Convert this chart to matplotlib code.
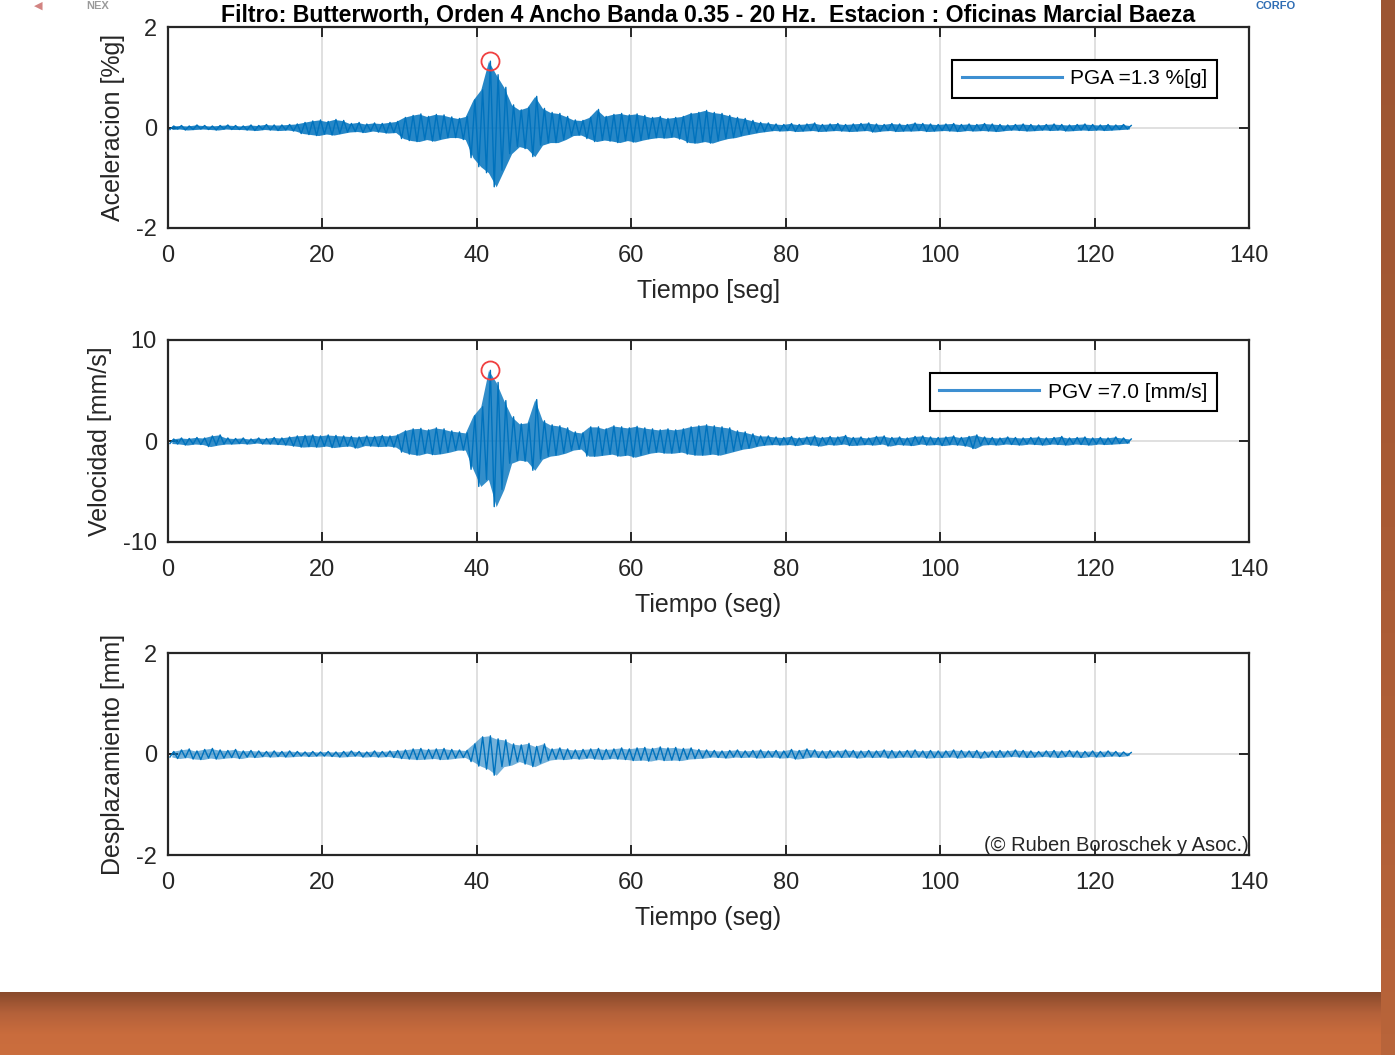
#Registro sismico filtrado - Oficinas Marcial Baeza
#Aceleracion, velocidad y desplazamiento (envolventes leidas por segundo)
import numpy as np
import matplotlib.pyplot as plt
from matplotlib.colors import LinearSegmentedColormap

plt.rcParams['font.family'] = ['Liberation Sans', 'DejaVu Sans']
plt.rcParams['axes.unicode_minus'] = False

titulo = 'Filtro: Butterworth, Orden 4 Ancho Banda 0.35 - 20 Hz.  Estacion : Oficinas Marcial Baeza'

#Maximos y minimos de cada segundo (0 a 124 s)
acel_max = [0.03, 0.04, 0.03, 0.05, 0.04, 0.03, 0.04, 0.05, 0.04, 0.03,
            0.05, 0.04, 0.06, 0.05, 0.05, 0.06, 0.07, 0.10, 0.13, 0.15,
            0.12, 0.16, 0.14, 0.08, 0.10, 0.07, 0.09, 0.08, 0.10, 0.12,
            0.20, 0.24, 0.27, 0.22, 0.26, 0.25, 0.21, 0.18, 0.22, 0.55,
            0.75, 1.32, 1.05, 0.80, 0.45, 0.35, 0.40, 0.62, 0.38, 0.30,
            0.28, 0.22, 0.15, 0.14, 0.20, 0.36, 0.22, 0.26, 0.28, 0.25,
            0.27, 0.24, 0.20, 0.22, 0.18, 0.20, 0.22, 0.28, 0.30, 0.34,
            0.30, 0.28, 0.24, 0.20, 0.18, 0.14, 0.10, 0.09, 0.07, 0.06,
            0.08, 0.06, 0.07, 0.09, 0.06, 0.07, 0.08, 0.06, 0.07, 0.08,
            0.09, 0.07, 0.06, 0.08, 0.07, 0.06, 0.09, 0.08, 0.07, 0.06,
            0.07, 0.08, 0.06, 0.07, 0.06, 0.08, 0.07, 0.06, 0.05, 0.06,
            0.07, 0.06, 0.05, 0.06, 0.07, 0.06, 0.05, 0.06, 0.07, 0.06,
            0.05, 0.06, 0.05, 0.06, 0.04]
acel_min = [-0.04, -0.03, -0.05, -0.04, -0.03, -0.04, -0.05, -0.03, -0.04, -0.04,
            -0.05, -0.06, -0.04, -0.05, -0.06, -0.05, -0.07, -0.12, -0.14, -0.16,
            -0.13, -0.15, -0.12, -0.09, -0.08, -0.10, -0.07, -0.09, -0.11, -0.10,
            -0.22, -0.26, -0.28, -0.24, -0.27, -0.23, -0.20, -0.20, -0.24, -0.60,
            -0.78, -0.90, -1.18, -0.85, -0.52, -0.38, -0.42, -0.58, -0.35, -0.30,
            -0.30, -0.24, -0.16, -0.15, -0.22, -0.28, -0.25, -0.27, -0.30, -0.26,
            -0.29, -0.25, -0.22, -0.20, -0.21, -0.19, -0.23, -0.30, -0.31, -0.28,
            -0.31, -0.26, -0.22, -0.20, -0.16, -0.13, -0.10, -0.08, -0.06, -0.07,
            -0.06, -0.08, -0.07, -0.06, -0.08, -0.07, -0.06, -0.07, -0.08, -0.07,
            -0.06, -0.09, -0.07, -0.06, -0.08, -0.07, -0.07, -0.06, -0.08, -0.07,
            -0.06, -0.07, -0.08, -0.06, -0.07, -0.06, -0.07, -0.08, -0.06, -0.05,
            -0.06, -0.07, -0.06, -0.05, -0.06, -0.05, -0.07, -0.06, -0.05, -0.06,
            -0.05, -0.06, -0.05, -0.04, -0.03]

vel_max = [0.20, 0.30, 0.25, 0.35, 0.30, 0.50, 0.60, 0.30, 0.25, 0.30,
           0.20, 0.30, 0.25, 0.35, 0.30, 0.40, 0.50, 0.55, 0.60, 0.50,
           0.60, 0.55, 0.50, 0.45, 0.40, 0.50, 0.45, 0.55, 0.50, 0.60,
           1.00, 1.20, 1.25, 1.10, 1.30, 1.20, 1.00, 0.90, 0.80, 2.50,
           3.40, 7.00, 5.80, 4.00, 2.40, 1.70, 1.80, 4.10, 2.00, 1.60,
           1.50, 1.30, 0.90, 0.80, 1.40, 1.40, 1.20, 1.50, 1.40, 1.30,
           1.45, 1.30, 1.20, 1.10, 1.20, 1.10, 1.20, 1.40, 1.50, 1.60,
           1.50, 1.40, 1.30, 1.00, 0.90, 0.70, 0.50, 0.50, 0.40, 0.35,
           0.45, 0.30, 0.40, 0.50, 0.35, 0.45, 0.40, 0.55, 0.35, 0.40,
           0.30, 0.45, 0.50, 0.35, 0.40, 0.30, 0.45, 0.50, 0.40, 0.35,
           0.40, 0.50, 0.35, 0.45, 0.60, 0.40, 0.35, 0.30, 0.40, 0.35,
           0.30, 0.35, 0.40, 0.30, 0.35, 0.45, 0.30, 0.35, 0.40, 0.30,
           0.35, 0.30, 0.40, 0.30, 0.20]
vel_min = [-0.25, -0.30, -0.40, -0.30, -0.35, -0.55, -0.40, -0.30, -0.30, -0.25,
           -0.30, -0.20, -0.30, -0.30, -0.35, -0.40, -0.50, -0.60, -0.55, -0.60,
           -0.50, -0.65, -0.55, -0.50, -0.70, -0.45, -0.50, -0.55, -0.50, -0.60,
           -1.10, -1.30, -1.40, -1.20, -1.35, -1.25, -1.10, -0.90, -0.90, -2.80,
           -4.50, -3.80, -6.50, -4.80, -2.20, -1.90, -2.00, -2.90, -1.80, -1.50,
           -1.40, -1.20, -0.90, -0.80, -1.50, -1.50, -1.40, -1.30, -1.50, -1.40,
           -1.60, -1.40, -1.20, -1.10, -1.20, -1.20, -1.10, -1.30, -1.40, -1.40,
           -1.30, -1.40, -1.20, -1.00, -0.80, -0.70, -0.50, -0.40, -0.35, -0.40,
           -0.35, -0.45, -0.30, -0.40, -0.50, -0.35, -0.40, -0.30, -0.45, -0.40,
           -0.35, -0.40, -0.30, -0.50, -0.35, -0.40, -0.45, -0.30, -0.40, -0.35,
           -0.45, -0.35, -0.40, -0.50, -0.75, -0.40, -0.35, -0.40, -0.30, -0.35,
           -0.40, -0.30, -0.35, -0.40, -0.30, -0.35, -0.40, -0.30, -0.35, -0.40,
           -0.30, -0.35, -0.30, -0.25, -0.20]

desp_max = [0.05, 0.08, 0.10, 0.06, 0.09, 0.11, 0.08, 0.07, 0.09, 0.06,
            0.07, 0.06, 0.05, 0.06, 0.05, 0.06, 0.05, 0.04, 0.05, 0.04,
            0.05, 0.04, 0.05, 0.06, 0.05, 0.04, 0.06, 0.05, 0.06, 0.07,
            0.08, 0.10, 0.11, 0.09, 0.10, 0.11, 0.09, 0.08, 0.07, 0.20,
            0.34, 0.36, 0.30, 0.28, 0.20, 0.18, 0.21, 0.15, 0.20, 0.10,
            0.12, 0.10, 0.08, 0.09, 0.10, 0.11, 0.09, 0.10, 0.12, 0.10,
            0.12, 0.13, 0.11, 0.14, 0.12, 0.13, 0.11, 0.12, 0.09, 0.08,
            0.07, 0.06, 0.07, 0.08, 0.06, 0.07, 0.08, 0.06, 0.07, 0.06,
            0.09, 0.07, 0.10, 0.08, 0.06, 0.07, 0.06, 0.08, 0.07, 0.06,
            0.07, 0.06, 0.08, 0.07, 0.06, 0.07, 0.08, 0.06, 0.07, 0.06,
            0.06, 0.08, 0.07, 0.06, 0.07, 0.05, 0.06, 0.07, 0.06, 0.08,
            0.07, 0.06, 0.05, 0.06, 0.07, 0.06, 0.07, 0.06, 0.05, 0.06,
            0.05, 0.06, 0.05, 0.04, 0.03]
desp_min = [-0.06, -0.09, -0.07, -0.10, -0.11, -0.08, -0.10, -0.08, -0.07, -0.09,
            -0.06, -0.07, -0.05, -0.06, -0.05, -0.06, -0.05, -0.04, -0.05, -0.04,
            -0.04, -0.05, -0.06, -0.05, -0.04, -0.06, -0.05, -0.06, -0.05, -0.07,
            -0.09, -0.10, -0.11, -0.10, -0.09, -0.11, -0.10, -0.08, -0.07, -0.15,
            -0.24, -0.30, -0.42, -0.25, -0.22, -0.15, -0.20, -0.25, -0.18, -0.12,
            -0.10, -0.11, -0.09, -0.10, -0.08, -0.10, -0.11, -0.09, -0.10, -0.11,
            -0.13, -0.12, -0.14, -0.11, -0.13, -0.12, -0.13, -0.10, -0.09, -0.08,
            -0.06, -0.07, -0.08, -0.06, -0.07, -0.06, -0.08, -0.07, -0.06, -0.08,
            -0.07, -0.10, -0.08, -0.06, -0.07, -0.08, -0.06, -0.07, -0.06, -0.08,
            -0.06, -0.07, -0.06, -0.08, -0.07, -0.06, -0.07, -0.06, -0.08, -0.07,
            -0.07, -0.06, -0.08, -0.06, -0.07, -0.08, -0.06, -0.07, -0.06, -0.05,
            -0.06, -0.07, -0.06, -0.05, -0.06, -0.07, -0.05, -0.06, -0.07, -0.05,
            -0.06, -0.05, -0.04, -0.05, -0.03]

ylabels = ['Aceleracion [%g]', 'Velocidad [mm/s]', 'Desplazamiento [mm]']
xlabels = ['Tiempo [seg]', 'Tiempo (seg)', 'Tiempo (seg)']
limites = [2, 10, 2]
leyendas = ['PGA =1.3 %[g]', 'PGV =7.0 [mm/s]', None]
relleno = [0.85, 0.8, 0.55]  #opacidad de la banda

segundos = np.arange(len(acel_max))  #inicio de cada segundo
azul = '#0072BD'
gris = '#262626'

def traza(vmax, vmin):
    #Un minimo y un maximo por segundo, alternados
    t = np.column_stack([segundos + 0.25, segundos + 0.75]).ravel()
    y = np.column_stack([vmin, vmax]).ravel()
    return t, y

fig = plt.figure(figsize=(13.95, 10.55), dpi=100)
fig.patch.set_facecolor('white')

#Fondo del marco (sombra naranja)
fondo = fig.add_axes([0, 0, 1, 63/1055])
fondo.imshow(np.linspace(0, 1, 50).reshape(-1, 1), aspect='auto',
             cmap=LinearSegmentedColormap.from_list('m', ['#8A4A2C', '#B4613A', '#C96C3D', '#CB6E3E']),
             extent=[0, 1, 0, 1])
fondo.axis('off')
borde = fig.add_axes([1381/1395, 0, 14/1395, 1])
borde.imshow(np.linspace(0, 1, 50).reshape(-1, 1), aspect='auto',
             cmap=LinearSegmentedColormap.from_list('b', ['#9C5532', '#A95B35', '#B8643A']),
             extent=[0, 1, 0, 1])
borde.axis('off')

#Restos de logos en el borde superior
fig.text(0.024, 0.999, '\u25C0', color='#C0504D', fontsize=8, va='top', alpha=0.7)
fig.text(0.062, 0.999, 'NEX', color='#9a9a9a', fontsize=8, va='top', fontweight='bold')
fig.text(0.90, 0.999, 'CORFO', color='#2E6DB4', fontsize=8, va='top', fontweight='bold')

posiciones = [[168/1395, 1-228/1055, 1081/1395, 201/1055],
              [168/1395, 1-542/1055, 1081/1395, 202/1055],
              [168/1395, 1-855/1055, 1081/1395, 202/1055]]
series = [(acel_max, acel_min), (vel_max, vel_min), (desp_max, desp_min)]

for k in range(3):
    ax = fig.add_axes(posiciones[k])
    vmax, vmin = series[k]
    t, y = traza(vmax, vmin)
    ax.fill_between(segundos + 0.5, vmin, vmax, color=azul, alpha=relleno[k], lw=0)
    ax.plot(t, y, color=azul, lw=1.0, label=leyendas[k])
    if leyendas[k] is not None:
        i = np.argmax(y)
        ax.plot(t[i], y[i], 'o', mfc='none', mec='#F04040', ms=13, mew=1.3)
        leg = ax.legend(loc='upper right', bbox_to_anchor=(0.970, 0.836), borderaxespad=0,
                        fontsize=15, handlelength=4.8, fancybox=False, framealpha=1,
                        edgecolor='black', borderpad=0.45, handletextpad=0.4)
        leg.get_frame().set_linewidth(1.5)
        leg.get_lines()[0].set_linewidth(2.2)
        leg.get_lines()[0].set_color('#3D8FD1')
    ax.set_xlim(0, 140)
    ax.set_ylim(-limites[k], limites[k])
    ax.set_xticks(range(0, 141, 20))
    ax.set_yticks([-limites[k], 0, limites[k]])
    ax.grid(True, color='#dddddd', lw=1.3)
    ax.set_axisbelow(True)
    ax.tick_params(direction='in', top=True, right=True, length=7, width=1.4,
                   labelsize=17, colors=gris)
    ax.tick_params(axis='x', pad=12)
    ax.tick_params(axis='y', pad=8)
    for s in ax.spines.values():
        s.set_linewidth(1.6)
        s.set_color(gris)
    ax.set_xlabel(xlabels[k], fontsize=18, color=gris, labelpad=9)
    ax.set_ylabel(ylabels[k], fontsize=18, color=gris, labelpad=8)
    if k == 0:
        ax.set_title(titulo, fontsize=16.7, fontweight='bold', color='black', pad=4)
    if k == 2:
        ax.text(1.0, 0.0, '(\u00a9 Ruben Boroschek y Asoc.)', transform=ax.transAxes,
                ha='right', va='bottom', fontsize=14.5, color=gris)

fig.savefig('out.png', dpi=100)
